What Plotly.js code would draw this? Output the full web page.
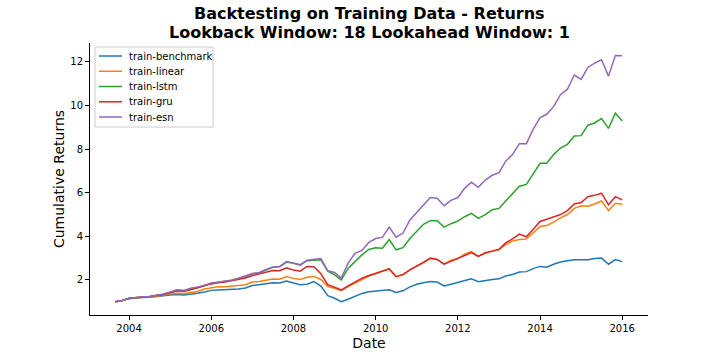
<!DOCTYPE html>
<html>
<head>
<meta charset="utf-8">
<script src="https://cdn.plot.ly/plotly-3.0.1.min.js"></script>
<style>html,body{margin:0;padding:0;background:#fff;}#chart{width:720px;height:360px;}</style>
</head>
<body>
<div id="chart"></div>
<script>
// bi-monthly dates from 2003-09 to 2016-01
const dates = [
"2003-09-01","2003-11-01",
"2004-01-01","2004-03-01","2004-05-01","2004-07-01","2004-09-01","2004-11-01",
"2005-01-01","2005-03-01","2005-05-01","2005-07-01","2005-09-01","2005-11-01",
"2006-01-01","2006-03-01","2006-05-01","2006-07-01","2006-09-01","2006-11-01",
"2007-01-01","2007-03-01","2007-05-01","2007-07-01","2007-09-01","2007-11-01",
"2008-01-01","2008-03-01","2008-05-01","2008-07-01","2008-09-01","2008-11-01",
"2009-01-01","2009-03-01","2009-05-01","2009-07-01","2009-09-01","2009-11-01",
"2010-01-01","2010-03-01","2010-05-01","2010-07-01","2010-09-01","2010-11-01",
"2011-01-01","2011-03-01","2011-05-01","2011-07-01","2011-09-01","2011-11-01",
"2012-01-01","2012-03-01","2012-05-01","2012-07-01","2012-09-01","2012-11-01",
"2013-01-01","2013-03-01","2013-05-01","2013-07-01","2013-09-01","2013-11-01",
"2014-01-01","2014-03-01","2014-05-01","2014-07-01","2014-09-01","2014-11-01",
"2015-01-01","2015-03-01","2015-05-01","2015-07-01","2015-09-01","2015-11-01",
"2016-01-01"];

const benchmark = [1.00,1.05,
1.14,1.18,1.19,1.20,1.22,1.27,
1.31,1.33,1.31,1.34,1.39,1.45,
1.52,1.54,1.55,1.55,1.58,1.63,
1.74,1.78,1.82,1.87,1.86,1.95,
1.86,1.78,1.80,1.92,1.72,1.28,
1.16,1.00,1.11,1.23,1.38,1.46,
1.50,1.54,1.55,1.42,1.50,1.68,
1.80,1.87,1.93,1.90,1.72,1.80,
1.88,1.98,2.05,1.92,1.98,2.02,
2.05,2.18,2.25,2.36,2.38,2.52,
2.62,2.58,2.72,2.82,2.88,2.92,
2.92,2.92,2.98,3.00,2.72,2.93,
2.84];

const linear = [1.00,1.05,
1.15,1.19,1.20,1.22,1.25,1.30,
1.36,1.39,1.38,1.41,1.47,1.58,
1.64,1.69,1.69,1.70,1.74,1.78,
1.90,1.93,2.00,2.04,2.03,2.15,
2.07,2.02,2.12,2.16,2.02,1.70,
1.62,1.51,1.69,1.85,2.05,2.18,
2.28,2.40,2.53,2.15,2.25,2.46,
2.62,2.80,2.98,2.94,2.72,2.90,
2.98,3.18,3.30,3.08,3.22,3.32,
3.38,3.62,3.78,3.85,3.88,4.15,
4.45,4.50,4.65,4.85,5.00,5.28,
5.40,5.38,5.48,5.62,5.18,5.52,
5.47];

const lstm = [1.00,1.06,
1.16,1.20,1.22,1.24,1.27,1.33,
1.42,1.50,1.48,1.55,1.62,1.72,
1.84,1.88,1.92,1.98,2.08,2.16,
2.28,2.32,2.45,2.58,2.60,2.82,
2.76,2.68,2.88,2.90,2.92,2.40,
2.23,2.00,2.53,2.84,3.15,3.40,
3.48,3.45,3.85,3.38,3.48,3.90,
4.25,4.55,4.72,4.72,4.42,4.58,
4.70,4.90,5.05,4.82,5.00,5.22,
5.28,5.62,5.92,6.30,6.38,6.85,
7.35,7.35,7.75,8.05,8.22,8.60,
8.62,9.10,9.20,9.40,8.95,9.65,
9.29];

const gru = [1.00,1.06,
1.16,1.20,1.22,1.24,1.27,1.33,
1.42,1.50,1.48,1.56,1.64,1.76,
1.83,1.87,1.90,1.97,2.03,2.09,
2.20,2.27,2.36,2.43,2.42,2.55,
2.45,2.40,2.62,2.60,2.28,1.78,
1.66,1.54,1.73,1.92,2.08,2.20,
2.30,2.40,2.50,2.15,2.24,2.46,
2.62,2.80,3.00,2.94,2.72,2.86,
3.00,3.12,3.25,3.08,3.25,3.32,
3.40,3.70,3.88,4.10,3.98,4.32,
4.68,4.78,4.90,5.00,5.18,5.48,
5.55,5.82,5.88,5.98,5.45,5.82,
5.67];

const esn = [1.00,1.06,
1.16,1.20,1.22,1.24,1.28,1.35,
1.45,1.55,1.52,1.62,1.68,1.75,
1.86,1.90,1.93,1.99,2.08,2.17,
2.29,2.33,2.48,2.58,2.62,2.84,
2.78,2.70,2.90,2.94,2.98,2.42,
2.34,2.08,2.77,3.22,3.35,3.72,
3.90,3.95,4.42,3.96,4.15,4.75,
5.10,5.40,5.78,5.75,5.40,5.65,
5.78,6.20,6.48,6.25,6.58,6.80,
6.92,7.45,7.75,8.25,8.25,8.92,
9.45,9.60,9.95,10.50,10.75,11.40,
11.20,11.75,11.95,12.10,11.35,12.30,
12.29];

const seriesNames = ["train-benchmark","train-linear","train-lstm","train-gru","train-esn"];
const seriesData = [benchmark, linear, lstm, gru, esn];
const colors = ["#1f77b4","#ff7f0e","#2ca02c","#d62728","#9467bd"];
const titleLines = ["Backtesting on Training Data - Returns", "Lookback Window: 18 Lookahead Window: 1"];

const traces = seriesNames.map((n,i)=>({
  x: dates, y: seriesData[i], name: n, type: "scatter", mode: "lines",
  line: {color: colors[i], width: 1.5}, showlegend: false
}));

// plot area in pixels (for styling conversions)
const W = 720, H = 360, ML = 90, MR = 72, MT = 43, MB = 45;
const PW = W - ML - MR, PH = H - MT - MB;
const px = x => (x - ML) / PW;
const py = y => (H - MB - y) / PH;

const F = "DejaVu Sans, sans-serif";

// custom legend (matplotlib-like compact spacing)
const shapes = [{
  type: "rect", xref: "paper", yref: "paper",
  x0: px(95), x1: px(213), y0: py(127), y1: py(47),
  line: {color: "#cccccc", width: 1}, fillcolor: "rgba(255,255,255,0.8)", layer: "above"
}];
const annotations = [];
seriesNames.forEach((n,i)=>{
  const yc = 56 + i * 15.25;
  shapes.push({type: "line", xref: "paper", yref: "paper",
    x0: px(99), x1: px(122), y0: py(yc), y1: py(yc),
    line: {color: colors[i], width: 1.5}, layer: "above"});
  annotations.push({xref: "paper", yref: "paper", x: px(127), y: py(yc),
    xanchor: "left", yanchor: "middle", showarrow: false, text: n,
    font: {family: F, size: 10, color: "#000"}});
});
titleLines.forEach((t,i)=>{
  annotations.push({xref: "paper", yref: "paper", x: 0.5, y: py(14 + i * 18.5),
    xanchor: "center", yanchor: "middle", showarrow: false, text: "<b>" + t + "</b>",
    font: {family: F, size: 16, color: "#000"}});
});

const layout = {
  width: W, height: H,
  margin: {l: ML, r: MR, t: MT, b: MB},
  paper_bgcolor: "#fff", plot_bgcolor: "#fff",
  font: {family: F, size: 10, color: "#000"},
  xaxis: {
    type: "date", range: ["2003-01-19", "2016-08-17"],
    tick0: "2004-01-01", dtick: "M24", tickformat: "%Y",
    showline: true, linecolor: "#000", linewidth: 1, mirror: false,
    ticks: "outside", ticklen: 4, tickcolor: "#000", tickwidth: 1,
    showgrid: false, zeroline: false,
    tickfont: {family: F, size: 10, color: "#000"},
    title: {text: "Date", font: {family: F, size: 14, color: "#000"}, standoff: 5}
  },
  yaxis: {
    range: [0.39, 12.87], tick0: 0, dtick: 2,
    showline: true, linecolor: "#000", linewidth: 1, mirror: false,
    ticks: "outside", ticklen: 4, tickcolor: "#000", tickwidth: 1,
    showgrid: false, zeroline: false,
    tickfont: {family: F, size: 10, color: "#000"},
    title: {text: "Cumulative Returns", font: {family: F, size: 14, color: "#000"}, standoff: 2}
  },
  shapes: shapes,
  annotations: annotations,
  showlegend: false
};

Plotly.newPlot("chart", traces, layout, {displayModeBar: false, staticPlot: true});
</script>
</body>
</html>
